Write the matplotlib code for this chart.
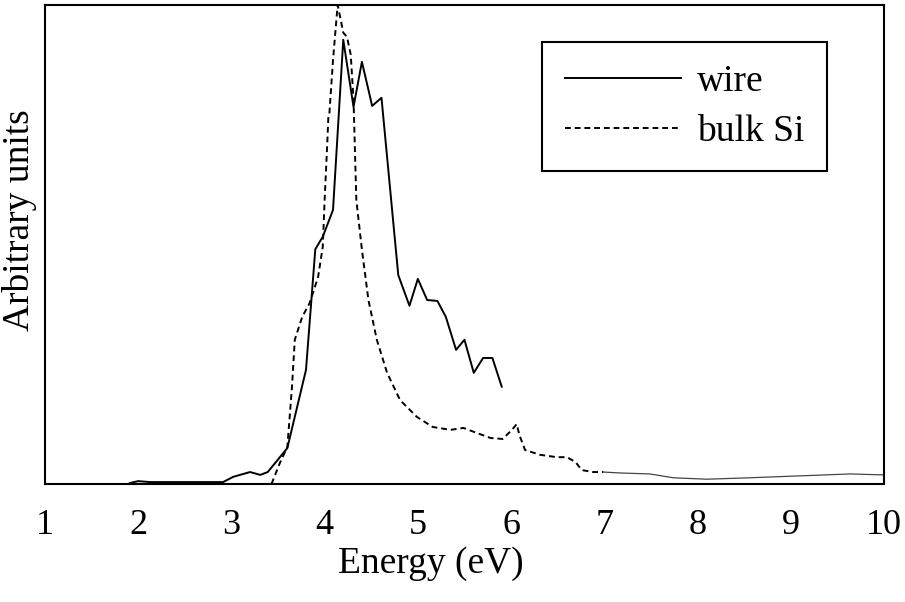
import matplotlib
matplotlib.use("Agg")
import matplotlib.pyplot as plt

# ----------------- Data -----------------
wire_e = [1.91, 2.00, 2.13, 2.45, 2.66, 2.91, 3.02, 3.20, 3.31, 3.39, 3.60,
          3.80, 3.90, 3.98, 4.09, 4.20, 4.31, 4.40, 4.51, 4.61, 4.79, 4.91,
          5.00, 5.10, 5.21, 5.30, 5.41, 5.50, 5.60, 5.70, 5.80, 5.90]
wire_y = [0.2, 0.6, 0.4, 0.4, 0.4, 0.4, 1.5, 2.5, 1.9, 2.5, 7.5,
          23.8, 49.0, 51.6, 57.2, 92.7, 78.7, 88.1, 78.9, 80.6, 43.6, 37.2,
          42.8, 38.4, 38.2, 34.9, 28.0, 30.1, 23.2, 26.3, 26.3, 20.3]

bulk_e = [3.43, 3.52, 3.60, 3.65, 3.68, 3.76, 3.84, 3.93, 3.98, 4.00, 4.03,
          4.04, 4.05, 4.09, 4.14, 4.20, 4.24, 4.28, 4.31, 4.34, 4.40, 4.47,
          4.56, 4.67, 4.81, 4.99, 5.16, 5.35, 5.49, 5.64, 5.78, 5.91, 6.01,
          6.06, 6.09, 6.15, 6.31, 6.49, 6.60, 6.69, 6.76, 6.88, 6.99]
bulk_y = [0.0, 4.4, 7.7, 20.3, 30.1, 34.9, 37.8, 43.2, 49.5, 59.3, 71.8,
          76.6, 77.0, 88.5, 100.0, 94.2, 93.3, 89.6, 80.2, 59.3, 48.9, 38.4,
          30.1, 23.2, 17.5, 14.0, 11.9, 11.3, 11.7, 10.6, 9.6, 9.4, 11.3,
          12.5, 10.2, 7.1, 6.1, 5.6, 5.6, 4.6, 2.9, 2.5, 2.5]

tail_e = [6.99, 7.17, 7.49, 7.74, 8.10, 8.56, 9.10, 9.64, 10.0]
tail_y = [2.5, 2.3, 2.1, 1.3, 1.0, 1.3, 1.7, 2.1, 1.9]

xticks = [1, 2, 3, 4, 5, 6, 7, 8, 9, 10]

# ----------------- Plot -----------------
plt.rcParams["font.family"] = ["Liberation Serif", "DejaVu Serif"]
FS = 26

fig = plt.figure(figsize=(9.05, 6.02), dpi=100)
ax = fig.add_axes([0.0497, 0.196, 0.927, 0.796])

ax.plot(wire_e, wire_y, color="black", lw=1.4, label="wire")
ax.plot(bulk_e, bulk_y, color="black", lw=1.4, linestyle=(0, (3, 2)), label="bulk Si")
ax.plot(tail_e, tail_y, color="#444444", lw=0.9)

ax.set_xlim(1, 10)
ax.set_ylim(0, 100)
ax.set_xticks(xticks)
ax.set_yticks([])
ax.tick_params(axis="x", length=0, pad=18, labelsize=FS)
for s in ax.spines.values():
    s.set_linewidth(1.5)

ax.set_xlabel("Energy (eV)", fontsize=FS + 1)
ax.xaxis.set_label_coords(0.46, -0.13)
ax.set_ylabel("Arbitrary units", fontsize=FS + 1)
ax.yaxis.set_label_coords(-0.009, 0.55)

leg = ax.legend(loc="upper right", bbox_to_anchor=(0.932, 0.923), fontsize=FS + 1,
                handlelength=3.1, handletextpad=0.42, labelspacing=0.42,
                borderpad=0.6, borderaxespad=0, fancybox=False, framealpha=1,
                edgecolor="black")
leg.get_frame().set_linewidth(1.5)

plt.savefig("out.png", dpi=100)
